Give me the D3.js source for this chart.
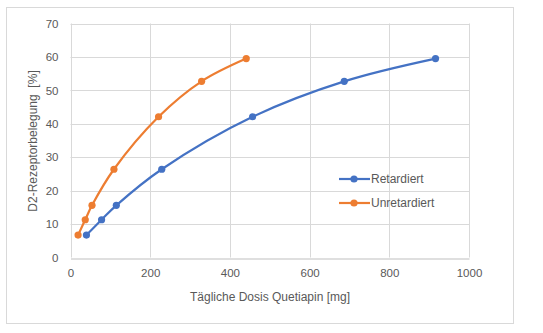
<!DOCTYPE html>
<html>
<head>
<meta charset="utf-8">
<script src="https://cdn.jsdelivr.net/npm/d3@7"></script>
<style>
  html, body { margin: 0; padding: 0; background: #fff; }
  svg { display: block; }
  text { font-family: "Liberation Sans", "DejaVu Sans", sans-serif; fill: #595959; white-space: pre; }
</style>
</head>
<body>
<svg id="chart" width="543" height="333"></svg>
<script>
// Occupancy of D2 receptors against daily quetiapin dose
const occupancy = [6.7, 11.3, 15.6, 26.4, 42.1, 52.7, 59.5];
const doseRetard = [40, 78, 115, 229, 457, 687, 916];
const doseUnretard = [19, 37, 54, 109, 221, 329, 441];
const seriesNames = ["Retardiert", "Unretardiert"];
const seriesColors = ["#4472C4", "#ED7D31"];
const xTicks = [0, 200, 400, 600, 800, 1000];
const yTicks = [0, 10, 20, 30, 40, 50, 60, 70];

const series = [
  { name: seriesNames[0], color: seriesColors[0], pts: doseRetard.map((d, i) => [d, occupancy[i]]) },
  { name: seriesNames[1], color: seriesColors[1], pts: doseUnretard.map((d, i) => [d, occupancy[i]]) }
];

const svg = d3.select("#chart");

// chart frame
svg.append("rect")
  .attr("x", 6.5).attr("y", 7.5).attr("width", 507).attr("height", 316)
  .attr("fill", "#fff").attr("stroke", "#d9d9d9").attr("stroke-width", 1);

const x = d3.scaleLinear().domain([0, 1000]).range([70.5, 469]);
const y = d3.scaleLinear().domain([0, 70]).range([257.5, 23.5]);

// gridlines
const grid = svg.append("g");
grid.selectAll("line.h").data(yTicks.slice(1)).join("line")
  .attr("x1", x(0)).attr("x2", x(1000))
  .attr("y1", d => Math.round(y(d)) + 0.5).attr("y2", d => Math.round(y(d)) + 0.5)
  .attr("stroke", "#d9d9d9").attr("stroke-width", 1);
grid.selectAll("line.v").data(xTicks).join("line")
  .attr("y1", y(0)).attr("y2", y(70))
  .attr("x1", d => Math.round(x(d)) + 0.5).attr("x2", d => Math.round(x(d)) + 0.5)
  .attr("stroke", "#d9d9d9").attr("stroke-width", 1);

// axes
const xAxis = svg.append("g")
  .attr("transform", `translate(0,${Math.round(y(0)) + 0.5})`)
  .call(d3.axisBottom(x).tickValues(xTicks).tickFormat(d3.format("d")).tickSize(0).tickPadding(10));
xAxis.select(".domain").attr("stroke", "#bfbfbf");
xAxis.selectAll("text").attr("font-size", 11.5).attr("fill", "#595959")
  .style("font-family", "'Liberation Sans', sans-serif");

const yAxis = svg.append("g")
  .attr("transform", `translate(${x(0)},0)`)
  .call(d3.axisLeft(y).tickValues(yTicks).tickFormat(d3.format("d")).tickSize(0).tickPadding(12));
yAxis.select(".domain").remove();
yAxis.selectAll("text").attr("font-size", 11.5).attr("fill", "#595959")
  .style("font-family", "'Liberation Sans', sans-serif");

// axis titles
svg.append("text")
  .attr("x", 270).attr("y", 301)
  .attr("text-anchor", "middle").attr("font-size", 12)
  .text("Tägliche Dosis Quetiapin [mg]");
svg.append("text")
  .attr("transform", "translate(37,141) rotate(-90)")
  .attr("text-anchor", "middle").attr("font-size", 12)
  .text("D2-Rezeptorbelegung  [%]");

// smoothed series lines and markers
const line = d3.line()
  .x(d => x(d[0])).y(d => y(d[1]))
  .curve(d3.curveCatmullRom.alpha(0.5));

series.forEach(s => {
  svg.append("path")
    .attr("d", line(s.pts))
    .attr("fill", "none").attr("stroke", s.color)
    .attr("stroke-width", 2.2).attr("stroke-linejoin", "round");
  svg.append("g").selectAll("circle").data(s.pts).join("circle")
    .attr("cx", d => x(d[0])).attr("cy", d => y(d[1]))
    .attr("r", 3.6).attr("fill", s.color);
});

// legend
const legend = svg.append("g");
series.forEach((s, i) => {
  const ly = 179 + i * 24;
  legend.append("line")
    .attr("x1", 339).attr("x2", 370).attr("y1", ly).attr("y2", ly)
    .attr("stroke", s.color).attr("stroke-width", 2.2);
  legend.append("circle").attr("cx", 354).attr("cy", ly).attr("r", 3.6).attr("fill", s.color);
  legend.append("text")
    .attr("x", 371).attr("y", ly).attr("dy", "0.35em")
    .attr("font-size", 12).text(s.name);
});
</script>
</body>
</html>
